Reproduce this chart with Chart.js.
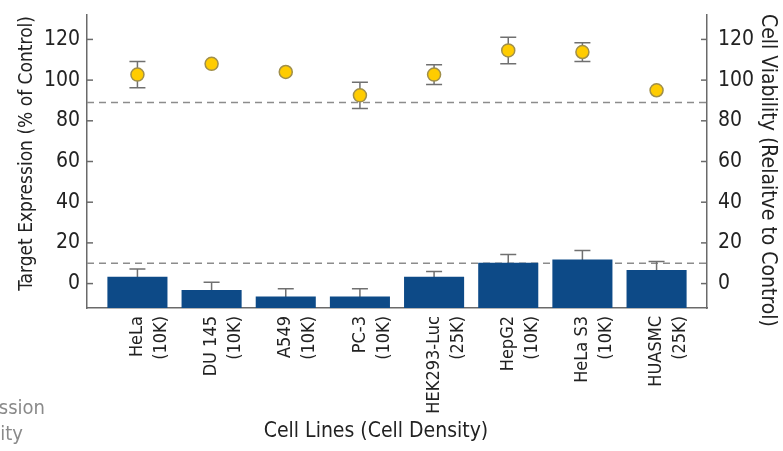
<!DOCTYPE html>
<html><head><meta charset="utf-8">
<script src="https://cdn.jsdelivr.net/npm/chart.js@4.4.0/dist/chart.umd.min.js"></script>
<style>
html,body{margin:0;padding:0;background:#fff;overflow:hidden}
#wrap{position:relative;width:783px;height:451px}
canvas{position:absolute;left:0;top:0}
.leg{position:absolute;font:20px/26px "Liberation Sans Narrow","DejaVu Sans Condensed","Liberation Sans",sans-serif;color:#8a8a8a;white-space:nowrap;text-align:right}
</style></head><body>
<div id="wrap"><canvas id="c" width="783" height="451"></canvas>
<div class="leg" style="right:738px;top:394px">Target Expression</div>
<div class="leg" style="right:760px;top:420px">Cell Viability</div></div>
<script>
const categories = [["HeLa","(10K)"],["DU 145","(10K)"],["A549","(10K)"],["PC-3","(10K)"],["HEK293-Luc","(25K)"],["HepG2","(10K)"],["HeLa S3","(10K)"],["HUASMC","(25K)"]];
const expression = [3.4, -3.1, -6.4, -6.4, 3.4, 10.3, 11.8, 6.7];
const expressionErr = [3.8, 3.8, 3.8, 3.8, 2.5, 4.0, 4.4, 4.1];
const viability = [102.7, 108, 104, 92.5, 102.7, 114.6, 113.8, 95];
const viabilityErr = [6.5, 0, 0, 6.5, 4.9, 6.5, 4.6, 0];
const thresholds = [89, 10];
const yTicks = [0, 20, 40, 60, 80, 100, 120];
const Y_MIN = -12, Y_MAX = 132;

const FONT = '"Liberation Sans Narrow","DejaVu Sans Condensed","Liberation Sans",sans-serif';
const TXT = '#222';
const AX = '#6a6a6a';
const NB = '\u00a0';

const overlay = {
  id: 'overlay',
  beforeDatasetsDraw(chart) {
    const {ctx, chartArea: a, scales: {x, y, y2}} = chart;
    ctx.save();
    ctx.strokeStyle = '#8c8c8c'; ctx.lineWidth = 1.6; ctx.setLineDash([7, 5]);
    thresholds.forEach(v => {
      const py = y.getPixelForValue(v);
      ctx.beginPath(); ctx.moveTo(a.left, py); ctx.lineTo(a.right, py); ctx.stroke();
    });
    ctx.setLineDash([]);
    ctx.strokeStyle = '#707070'; ctx.lineWidth = 1.5;
    const eb = (scale, vals, errs) => vals.forEach((v, i) => {
      const e = errs[i]; if (!e) return;
      const px = x.getPixelForValue(i);
      const t = scale.getPixelForValue(v + e), b = scale.getPixelForValue(v - e);
      ctx.beginPath();
      ctx.moveTo(px, t); ctx.lineTo(px, b);
      ctx.moveTo(px - 8, t); ctx.lineTo(px + 8, t);
      ctx.moveTo(px - 8, b); ctx.lineTo(px + 8, b);
      ctx.stroke();
    });
    eb(y, expression, expressionErr);
    eb(y2, viability, viabilityErr);
    ctx.restore();
  },
  afterDraw(chart) {
    const {ctx, chartArea: a, scales: {y, y2}} = chart;
    ctx.save();
    ctx.strokeStyle = AX; ctx.lineWidth = 1.5;
    y.ticks.forEach(t => { const p = y.getPixelForValue(t.value); ctx.beginPath(); ctx.moveTo(a.left, p); ctx.lineTo(a.left + 6, p); ctx.stroke(); });
    y2.ticks.forEach(t => { const p = y2.getPixelForValue(t.value); ctx.beginPath(); ctx.moveTo(a.right - 6, p); ctx.lineTo(a.right, p); ctx.stroke(); });
    ctx.restore();
  }
};

const noPad = s => { s.paddingTop = 0; s.paddingBottom = 0; s.paddingLeft = 0; s.paddingRight = 0; };

new Chart(document.getElementById('c'), {
  type: 'bar',
  data: {
    datasets: [
      {
        type: 'line', label: 'Cell Viability', yAxisID: 'y2', order: 0, showLine: false,
        data: viability.map((v, i) => ({x: i, y: v})),
        pointRadius: 6.5, pointBackgroundColor: '#FFCC00', pointBorderColor: '#a08f4a', pointBorderWidth: 1.5
      },
      {
        type: 'bar', label: 'Target Expression', yAxisID: 'y', order: 1,
        data: expression.map((v, i) => ({x: i, y: v})),
        base: Y_MIN, backgroundColor: '#0d4a87', barPercentage: 0.9, categoryPercentage: 0.9
      }
    ]
  },
  options: {
    responsive: false, animation: false, devicePixelRatio: 1,
    layout: {padding: {top: 15, left: 0, right: 0, bottom: 0}},
    plugins: {legend: {display: false}, tooltip: {enabled: false}},
    scales: {
      x: {
        type: 'linear', min: -0.68, max: 7.68, offset: false,
        grid: {display: true, drawOnChartArea: false, drawTicks: false},
        border: {display: true, color: AX, width: 1.5},
        ticks: {
          stepSize: 1, includeBounds: false, autoSkip: false, minRotation: 90, maxRotation: 90, padding: 8,
          color: TXT, font: {family: FONT, size: 18, lineHeight: 1.33},
          callback: v => categories[v] || ''
        },
        title: {display: true, text: 'Cell Lines (Cell Density)' + NB.repeat(7), color: TXT, font: {family: FONT, size: 21}, padding: {top: 0, bottom: 7}},
        afterFit: s => { s.height = 143; noPad(s); }
      },
      y: {
        type: 'linear', position: 'left', min: Y_MIN, max: Y_MAX,
        afterBuildTicks: s => { s.ticks = yTicks.map(v => ({value: v})); },
        grid: {display: true, drawOnChartArea: false, drawTicks: false},
        border: {display: true, color: AX, width: 1.5},
        ticks: {padding: 7, color: TXT, font: {family: FONT, size: 21}},
        title: {display: true, text: NB.repeat(3) + 'Target Expression (% of Control)', color: TXT, font: {family: FONT, size: 19}, padding: {top: 16, bottom: 0}},
        afterFit: s => { s.width = 87; noPad(s); }
      },
      y2: {
        type: 'linear', position: 'right', min: Y_MIN, max: Y_MAX,
        afterBuildTicks: s => { s.ticks = yTicks.map(v => ({value: v})); },
        grid: {display: true, drawOnChartArea: false, drawTicks: false},
        border: {display: true, color: AX, width: 1.5},
        ticks: {padding: 11, color: TXT, font: {family: FONT, size: 21}},
        title: {display: true, text: NB.repeat(3) + 'Cell Viability (Relaitve to Control)', color: TXT, font: {family: FONT, size: 21}, padding: {top: 3, bottom: 0}},
        afterFit: s => { s.width = 76; noPad(s); }
      }
    }
  },
  plugins: [overlay]
});
</script>
</body></html>
